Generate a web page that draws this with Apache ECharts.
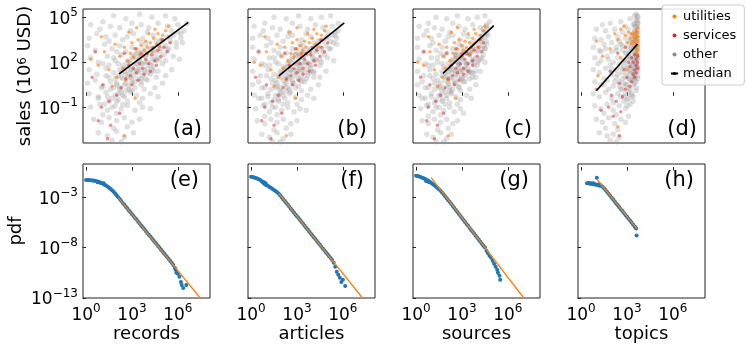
<!DOCTYPE html>
<html>
<head>
<meta charset="utf-8">
<script src="https://cdn.jsdelivr.net/npm/echarts@6/dist/echarts.min.js"></script>
<style>
  html, body { margin: 0; padding: 0; background: #fff; }
  #main { width: 747px; height: 348px; }
</style>
</head>
<body>
<div id="main"></div>
<script>
// all values are log10: [log10 x, log10 y]
const xNames = ['records', 'articles', 'sources', 'topics'];
const panelTags = ['(a)', '(b)', '(c)', '(d)', '(e)', '(f)', '(g)', '(h)'];
const xTicks = [0, 3, 6];
const salesTicks = [5, 2, -1];
const pdfTicks = [-3, -8, -13];

// ---- top row: sales vs. count ----
const otherA = [[1.8,5.1],[2.6,4.9],[3.5,5.2],[4.3,5.0],[5.2,5.1],[5.8,4.9],[1.1,4.7],[3.0,4.6],
  [0.3,4.5],[0.9,4.2],[1.6,4.4],[2.2,4.3],[2.9,4.1],[3.6,4.5],[4.1,4.3],[4.7,4.6],[5.3,4.4],[6.0,4.5],[6.6,4.6],[5.6,4.1],
  [0.2,3.6],[0.7,3.9],[1.3,3.7],[1.9,3.8],[2.4,3.5],[3.1,3.9],[3.7,3.6],[4.4,3.8],[4.9,3.5],[5.5,3.7],[6.2,3.9],[2.7,3.7],[4.0,4.0],
  [0.1,3.1],[0.6,2.8],[1.2,3.2],[1.7,2.9],[2.2,3.1],[2.6,2.7],[3.0,3.0],[3.4,2.8],[3.9,3.2],[4.3,2.9],[4.8,3.1],[5.3,2.8],[5.9,3.0],[6.3,3.3],[1.5,3.4],[3.6,3.3],[4.6,3.4],
  [0.3,2.3],[0.8,2.0],[1.4,2.4],[1.9,2.1],[2.3,2.5],[2.7,2.0],[3.1,2.3],[3.5,2.1],[3.9,2.4],[4.3,2.0],[4.7,2.3],[5.2,2.1],[5.7,2.4],[6.1,2.2],[2.0,2.7],[3.3,2.6],[4.5,2.6],[1.1,1.9],
  [0.2,1.5],[0.7,1.2],[1.3,1.6],[1.8,1.3],[2.2,1.5],[2.6,1.2],[3.0,1.6],[3.4,1.3],[3.8,1.5],[4.2,1.2],[4.7,1.4],[5.2,1.1],[5.6,1.5],[2.4,1.8],[2.9,1.0],[3.6,1.9],[4.4,1.7],[1.5,1.0],
  [0.1,0.6],[0.6,0.8],[1.1,0.4],[1.6,0.7],[2.0,0.5],[2.4,0.9],[2.8,0.4],[3.2,0.7],[3.6,0.5],[4.0,0.8],[4.5,0.3],[5.0,0.6],[2.2,0.2],[3.0,0.1],[3.8,0.2],[1.9,0.9],
  [0.2,-0.1],[0.8,-0.3],[1.3,0.0],[1.7,-0.4],[2.1,-0.1],[2.5,-0.3],[2.9,0.0],[3.3,-0.2],[3.7,-0.4],[4.2,-0.1],[4.7,-0.3],[1.5,-0.6],[2.7,-0.6],[3.5,-0.7],
  [0.3,-1.0],[0.9,-0.8],[1.4,-1.2],[1.9,-0.9],[2.3,-1.1],[2.7,-0.9],[3.2,-1.2],[3.7,-1.0],[4.2,-1.1],[2.0,-1.4],[1.1,-1.5],
  [0.5,-1.8],[1.0,-2.0],[1.5,-1.7],[2.0,-1.9],[2.5,-1.7],[3.0,-2.0],[3.5,-1.8],[2.7,-2.3],[1.8,-2.4],
  [0.8,-2.7],[1.4,-2.9],[2.0,-2.6],[2.5,-3.0],[3.1,-2.7],[1.7,-3.2],[2.3,-3.3],
  [2.3,1.0],[2.5,1.4],[2.7,1.7],[2.9,2.0],[3.1,1.4],[3.3,1.9],[3.5,2.3],[3.7,1.1],[3.9,2.0],[4.1,2.6],[4.3,1.5],[4.5,2.2],[4.8,2.7],[5.0,1.9],
  [2.6,0.6],[2.8,1.3],[3.0,0.8],[3.2,2.5],[3.4,1.6],[3.6,0.9],[3.8,2.8],[4.0,1.6],[4.6,1.0],[1.8,0.3],[2.1,1.1],[2.3,0.0],[2.0,-0.6],[2.4,-0.8],
  [1.2,-0.8],[1.4,-0.3],[1.6,0.2],[1.7,-1.0],[1.9,-0.2],[2.0,0.6],[2.1,-0.5],[2.2,0.3],[2.3,1.3],[2.4,-0.2],[2.5,0.5],[2.5,1.6],[2.6,0.1],[2.7,1.0],
  [2.8,2.1],[2.8,0.2],[2.9,1.5],[3.0,0.6],[3.0,2.4],[3.1,1.1],[3.2,1.9],[3.2,0.3],[3.3,1.4],[3.4,2.2],[3.4,0.9],[3.5,1.5],[3.6,2.6],[3.6,0.7],
  [3.7,1.9],[3.8,1.3],[3.9,2.5],[3.9,0.9],[4.0,2.0],[4.1,1.3],[4.2,2.9],[4.2,1.8],[4.3,2.3],[4.4,1.4],[4.5,2.8],[4.6,2.1],[4.7,3.2],[4.8,2.2],
  [4.9,2.9],[5.0,3.4],[5.1,2.5],[5.2,3.1],[5.3,3.7],[5.4,2.9],[5.5,3.4],[5.7,3.8],[5.9,3.3],[6.0,4.0],[6.2,3.6],[6.4,4.1],[1.0,0.3],[1.3,1.1],
  [0.8,-0.4],[1.5,1.8],[1.8,2.3],[2.1,1.9]];
const utilA = [[2.7,2.1],[2.9,2.6],[3.1,2.3],[3.3,2.9],[3.5,2.5],[3.6,3.1],[3.8,2.8],[3.9,3.4],[4.0,3.0],[4.2,3.3],[4.3,2.7],[4.4,3.6],[4.6,3.2],[4.7,3.9],
  [4.9,3.5],[5.0,3.8],[5.2,4.1],[3.4,3.5],[3.0,3.3],[2.5,3.0],[4.1,3.9],[3.7,2.4],[4.5,4.2],[5.4,4.4],[2.2,2.4],[1.9,3.2],[1.2,2.7],[0.8,1.8],
  [0.3,2.2],[1.5,1.5],[2.0,1.0],[2.6,0.8],[1.0,3.7],[3.3,4.3],[2.8,4.0],[1.7,0.4],[2.5,-2.9],[3.2,-0.4],[2.4,1.6],[4.8,3.0]];
const servA = [[2.6,0.9],[2.9,1.1],[3.1,1.6],[3.3,1.3],[3.5,1.9],[3.7,1.6],[3.9,2.2],[4.1,1.9],[4.3,2.5],[4.5,2.1],[4.7,2.8],[4.9,2.4],[5.1,3.0],[5.3,2.7],
  [5.5,3.3],[3.0,0.5],[3.4,0.8],[3.8,1.2],[4.2,1.4],[4.6,1.8],[2.8,1.8],[3.6,2.6],[4.4,3.0],[5.0,3.5],[2.3,0.3],[2.0,-0.2],[1.5,-0.6],[1.0,-1.0],
  [0.8,-1.9],[1.6,-2.2],[2.2,-1.4],[1.4,-3.1],[0.4,1.0],[1.1,0.5],[2.5,2.6],[3.2,2.9],[4.0,2.6],[0.6,2.7]];
const medianA = [[2.16,1.22],[6.68,4.66]];

const otherB = [[1.5,5.0],[2.3,4.9],[3.1,5.1],[3.9,4.9],[4.6,5.0],[5.2,5.1],[0.9,4.6],[2.7,4.6],
  [0.2,4.4],[0.8,4.1],[1.4,4.3],[1.9,4.2],[2.5,4.0],[3.2,4.4],[3.7,4.2],[4.2,4.5],[4.7,4.3],[5.3,4.4],[5.7,4.6],[5.0,4.0],
  [0.1,3.6],[0.6,3.8],[1.1,3.6],[1.7,3.8],[2.1,3.4],[2.7,3.8],[3.3,3.5],[3.9,3.7],[4.4,3.4],[4.9,3.6],[5.5,3.8],[2.4,3.7],[3.6,3.9],
  [0.1,3.0],[0.5,2.7],[1.0,3.1],[1.5,2.8],[1.9,3.0],[2.3,2.6],[2.7,2.9],[3.0,2.7],[3.4,3.1],[3.8,2.8],[4.2,3.0],[4.7,2.7],[5.2,2.9],[5.6,3.2],[1.3,3.3],[3.2,3.2],[4.1,3.3],
  [0.2,2.2],[0.7,1.9],[1.2,2.3],[1.6,2.0],[2.0,2.4],[2.4,1.9],[2.7,2.2],[3.1,2.0],[3.4,2.3],[3.8,1.9],[4.2,2.2],[4.6,2.0],[5.0,2.3],[5.4,2.1],[1.8,2.6],[2.9,2.5],[4.0,2.5],[0.9,1.8],
  [0.1,1.4],[0.6,1.1],[1.1,1.5],[1.5,1.2],[1.9,1.4],[2.3,1.1],[2.6,1.5],[3.0,1.2],[3.3,1.4],[3.7,1.1],[4.1,1.3],[4.5,1.0],[4.9,1.4],[2.1,1.7],[2.5,0.9],[3.2,1.8],[3.9,1.6],[1.3,0.9],
  [0.1,0.5],[0.5,0.7],[0.9,0.3],[1.4,0.6],[1.7,0.4],[2.1,0.8],[2.4,0.3],[2.8,0.6],[3.1,0.4],[3.5,0.7],[3.9,0.2],[4.4,0.5],[1.9,0.1],[2.6,0.0],[3.3,0.1],[1.6,0.8],
  [0.2,-0.2],[0.7,-0.4],[1.1,-0.1],[1.5,-0.5],[1.8,-0.2],[2.2,-0.4],[2.5,-0.1],[2.9,-0.3],[3.3,-0.5],[3.7,-0.2],[4.1,-0.4],[1.3,-0.7],[2.4,-0.7],[3.0,-0.8],
  [0.3,-1.1],[0.8,-0.9],[1.2,-1.3],[1.6,-1.0],[2.0,-1.2],[2.4,-1.0],[2.8,-1.3],[3.2,-1.1],[3.6,-1.2],[1.7,-1.5],[0.9,-1.6],
  [0.4,-1.9],[0.9,-2.1],[1.3,-1.8],[1.7,-2.0],[2.1,-1.8],[2.6,-2.1],[3.0,-1.9],[2.3,-2.4],[1.5,-2.5],
  [0.7,-2.8],[1.2,-3.0],[1.7,-2.7],[2.1,-3.1],[2.6,-2.8],[1.4,-3.3],[1.9,-3.3],
  [2.0,1.0],[2.2,1.4],[2.4,1.7],[2.6,2.0],[2.8,1.4],[3.0,1.9],[3.2,2.3],[3.3,1.0],[3.5,2.0],[3.7,2.6],[3.9,1.4],[4.1,2.1],[4.3,2.7],[4.5,1.8],
  [2.3,0.6],[2.5,1.3],[2.7,0.8],[2.9,2.5],[3.1,1.6],[3.2,0.8],[3.4,2.8],[3.6,1.6],[4.1,1.0],[1.6,0.3],[1.8,1.1],[2.0,0.0],[1.8,-0.6],[2.1,-0.8],
  [0.9,-0.8],[1.1,-0.3],[1.3,0.2],[1.4,-1.0],[1.6,-0.2],[1.7,0.6],[1.8,-0.5],[1.9,0.3],[2.0,1.3],[2.1,-0.2],[2.2,0.5],[2.2,1.6],[2.3,0.1],[2.4,1.0],
  [2.5,2.1],[2.5,0.2],[2.6,1.5],[2.7,0.6],[2.7,2.4],[2.8,1.1],[2.9,1.9],[2.9,0.3],[3.0,1.4],[3.1,2.2],[3.1,0.9],[3.2,1.5],[3.3,2.6],[3.3,0.7],
  [3.4,1.9],[3.5,1.3],[3.6,2.5],[3.6,0.9],[3.7,2.0],[3.8,1.3],[3.9,2.9],[3.9,1.8],[4.0,2.3],[4.1,1.4],[4.2,2.8],[4.3,2.1],[4.4,3.2],[4.5,2.2],
  [4.6,2.9],[4.7,3.4],[4.8,2.5],[4.9,3.1],[5.0,3.7],[5.1,2.9],[5.2,3.4],[5.3,3.8],[5.4,3.3],[5.5,4.0],[5.6,3.6],[5.7,4.1],[0.7,0.3],[1.0,1.1],
  [0.5,-0.4],[1.2,1.8],[1.5,2.3],[1.8,1.9]];
const utilB = [[2.4,2.1],[2.6,2.6],[2.8,2.3],[3.0,2.9],[3.1,2.5],[3.2,3.1],[3.4,2.8],[3.5,3.4],[3.6,3.0],[3.8,3.3],[3.9,2.7],[4.0,3.6],[4.2,3.2],[4.3,3.9],
  [4.5,3.5],[4.6,3.8],[4.8,4.1],[3.0,3.5],[2.7,3.3],[2.2,3.0],[3.7,3.9],[3.3,2.4],[4.1,4.2],[4.9,4.4],[2.0,2.4],[1.7,3.2],[1.0,2.7],[0.6,1.8],
  [0.2,2.0],[1.3,1.5],[1.8,1.0],[2.3,0.8],[0.9,3.7],[3.0,4.3],[2.5,4.0],[1.5,0.4],[2.3,-2.9],[2.9,-0.4],[2.1,1.6],[4.4,3.0]];
const servB = [[2.3,0.9],[2.6,1.1],[2.8,1.6],[3.0,1.3],[3.2,1.9],[3.4,1.6],[3.5,2.2],[3.7,1.9],[3.9,2.5],[4.1,2.1],[4.3,2.8],[4.5,2.4],[4.6,3.0],[4.8,2.7],
  [5.0,3.3],[2.7,0.5],[3.1,0.8],[3.4,1.2],[3.8,1.4],[4.2,1.8],[2.5,1.8],[3.3,2.6],[4.0,3.0],[4.6,3.5],[2.1,0.3],[1.8,-0.2],[1.4,-0.6],[0.9,-1.0],
  [0.7,-1.9],[1.5,-2.2],[2.0,-1.4],[1.3,-3.1],[0.3,1.0],[1.0,0.5],[2.2,2.6],[2.9,2.9],[3.6,2.6],[0.5,2.7]];
const medianB = [[1.81,1.10],[6.09,4.62]];

const otherC = [[1.3,5.0],[2.0,4.9],[2.7,5.1],[3.4,4.9],[4.0,5.0],[4.5,5.1],[0.8,4.6],[2.4,4.6],
  [0.2,4.4],[0.7,4.1],[1.2,4.3],[1.7,4.2],[2.2,4.0],[2.8,4.4],[3.2,4.2],[3.7,4.5],[4.2,4.3],[4.6,4.4],[4.8,4.7],[4.4,4.0],
  [0.1,3.6],[0.5,3.8],[1.0,3.6],[1.5,3.8],[1.9,3.4],[2.4,3.8],[2.9,3.5],[3.4,3.7],[3.9,3.4],[4.3,3.6],[4.7,3.8],[2.1,3.7],[3.1,3.9],
  [0.1,3.0],[0.5,2.7],[0.9,3.1],[1.3,2.8],[1.7,3.0],[2.0,2.6],[2.4,2.9],[2.7,2.7],[3.0,3.1],[3.4,2.8],[3.7,3.0],[4.1,2.7],[4.5,2.9],[4.6,3.2],[1.1,3.3],[2.8,3.2],[3.6,3.3],
  [0.2,2.2],[0.6,1.9],[1.0,2.3],[1.4,2.0],[1.8,2.4],[2.1,1.9],[2.4,2.2],[2.7,2.0],[3.0,2.3],[3.3,1.9],[3.7,2.2],[4.0,2.0],[4.3,2.3],[4.5,2.0],[1.6,2.6],[2.6,2.5],[3.5,2.5],[0.8,1.8],
  [0.1,1.4],[0.5,1.1],[0.9,1.5],[1.3,1.2],[1.7,1.4],[2.0,1.1],[2.3,1.5],[2.6,1.2],[2.9,1.4],[3.2,1.1],[3.6,1.3],[3.9,1.0],[4.2,1.4],[1.8,1.7],[2.2,0.9],[2.8,1.8],[3.4,1.6],[1.1,0.9],
  [0.1,0.5],[0.4,0.7],[0.8,0.3],[1.2,0.6],[1.5,0.4],[1.9,0.8],[2.2,0.3],[2.5,0.6],[2.8,0.4],[3.1,0.7],[3.5,0.2],[3.9,0.5],[1.7,0.1],[2.3,0.0],[2.9,0.1],[1.4,0.8],
  [0.2,-0.2],[0.6,-0.4],[1.0,-0.1],[1.3,-0.5],[1.6,-0.2],[2.0,-0.4],[2.3,-0.1],[2.6,-0.3],[2.9,-0.5],[3.3,-0.2],[3.6,-0.4],[1.2,-0.7],[2.2,-0.7],[2.7,-0.8],
  [0.3,-1.1],[0.7,-0.9],[1.1,-1.3],[1.5,-1.0],[1.8,-1.2],[2.2,-1.0],[2.5,-1.3],[2.9,-1.1],[3.1,-1.4],[1.6,-1.5],[0.8,-1.6],
  [0.4,-1.9],[0.8,-2.1],[1.2,-1.8],[1.6,-2.0],[2.0,-1.8],[2.4,-2.1],[2.7,-1.9],[2.1,-2.4],[1.4,-2.5],
  [0.7,-2.8],[1.1,-3.0],[1.6,-2.7],[2.0,-3.1],[2.3,-2.8],[1.3,-3.3],[1.8,-3.3],
  [1.9,1.0],[2.1,1.4],[2.3,1.7],[2.4,2.0],[2.6,1.4],[2.8,1.9],[2.9,2.3],[3.0,1.0],[3.2,2.0],[3.3,2.6],[3.5,1.4],[3.7,2.1],[3.8,2.7],[4.0,1.8],
  [2.1,0.6],[2.3,1.3],[2.5,0.8],[2.6,2.5],[2.8,1.6],[2.9,0.8],[3.1,2.8],[3.2,1.6],[3.7,1.0],[1.5,0.3],[1.7,1.1],[1.9,0.0],[1.7,-0.6],[1.9,-0.8],
  [0.8,-0.8],[1.0,-0.3],[1.2,0.2],[1.3,-1.0],[1.5,-0.2],[1.6,0.6],[1.7,-0.5],[1.8,0.3],[1.9,1.3],[2.0,-0.2],[2.1,0.5],[2.1,1.6],[2.2,0.1],[2.3,1.0],
  [2.4,2.1],[2.4,0.2],[2.5,1.5],[2.6,0.6],[2.6,2.4],[2.7,1.1],[2.8,1.9],[2.8,0.3],[2.9,1.4],[3.0,2.2],[3.0,0.9],[3.1,1.5],[3.2,2.6],[3.2,0.7],
  [3.3,1.9],[3.4,1.3],[3.5,2.5],[3.5,0.9],[3.6,2.0],[3.7,1.3],[3.7,2.9],[3.8,1.8],[3.9,2.3],[3.9,1.4],[4.0,2.8],[4.1,2.1],[4.1,3.2],[4.2,2.2],
  [4.3,2.9],[4.3,3.4],[4.4,2.5],[4.4,3.1],[4.5,3.7],[4.5,2.9],[4.6,3.4],[4.6,3.9],[4.7,4.2],[4.6,4.5],[4.4,4.2],[4.2,3.7],[0.6,0.3],[0.9,1.1],
  [0.4,-0.4],[1.1,1.8],[1.4,2.3],[1.7,1.9]];
const utilC = [[2.2,2.1],[2.4,2.6],[2.6,2.3],[2.7,2.9],[2.9,2.5],[3.0,3.1],[3.1,2.8],[3.2,3.4],[3.3,3.0],[3.5,3.3],[3.6,2.7],[3.7,3.6],[3.8,3.2],[3.9,3.9],
  [4.1,3.5],[4.2,3.8],[4.4,4.1],[2.8,3.5],[2.5,3.3],[2.0,3.0],[3.4,3.9],[3.0,2.4],[3.8,4.2],[4.5,4.4],[1.8,2.4],[1.5,3.2],[0.9,2.7],[0.5,1.8],
  [0.1,2.0],[1.2,1.5],[1.7,1.0],[2.1,0.8],[0.8,3.7],[2.7,4.3],[2.3,4.0],[1.4,0.4],[2.1,-2.9],[2.6,-0.4],[1.9,1.6],[4.0,3.0]];
const servC = [[2.1,0.9],[2.4,1.1],[2.6,1.6],[2.7,1.3],[2.9,1.9],[3.1,1.6],[3.2,2.2],[3.4,1.9],[3.5,2.5],[3.7,2.1],[3.8,2.8],[4.0,2.4],[4.1,3.0],[4.3,2.7],
  [4.4,3.3],[2.5,0.5],[2.8,0.8],[3.1,1.2],[3.4,1.4],[3.7,1.8],[2.3,1.8],[3.0,2.6],[3.6,3.0],[4.2,3.5],[1.9,0.3],[1.6,-0.2],[1.3,-0.6],[0.8,-1.0],
  [0.7,-1.9],[1.4,-2.2],[1.8,-1.4],[1.2,-3.1],[0.3,1.0],[0.9,0.5],[2.0,2.6],[2.6,2.9],[3.3,2.6],[0.5,2.7]];
const medianC = [[1.76,1.26],[5.08,4.44]];

const otherD = [[3.5,5.1],[3.7,5.0],[3.6,4.8],[3.2,4.9],[2.6,4.7],[1.9,4.6],[1.4,4.5],[3.7,4.6],[3.4,4.5],[2.9,4.4],
  [1.0,4.2],[1.6,4.1],[2.2,4.2],[2.7,4.0],[3.1,4.2],[3.5,4.1],[3.7,4.3],[3.6,3.9],[3.3,3.8],[2.4,3.7],
  [0.9,3.6],[1.3,3.5],[1.8,3.7],[2.0,3.3],[2.5,3.4],[2.9,3.6],[3.2,3.4],[3.5,3.5],[3.7,3.6],[3.7,3.2],[1.5,3.2],
  [0.8,3.0],[1.2,2.8],[1.6,2.9],[2.0,2.7],[2.3,3.0],[2.7,2.8],[3.0,3.0],[3.3,2.9],[3.6,2.8],[3.7,2.6],[3.5,3.1],[2.6,3.2],
  [0.9,2.3],[1.3,2.1],[1.7,2.4],[2.1,2.0],[2.4,2.3],[2.8,2.1],[3.1,2.4],[3.4,2.2],[3.6,2.0],[3.7,2.3],[1.1,1.9],[2.9,2.6],
  [0.8,1.5],[1.2,1.3],[1.6,1.6],[2.0,1.2],[2.3,1.5],[2.7,1.3],[3.0,1.6],[3.3,1.4],[3.5,1.2],[3.7,1.6],[1.9,1.8],[2.5,1.9],
  [0.9,0.7],[1.3,0.5],[1.7,0.8],[2.1,0.4],[2.5,0.7],[2.9,0.5],[3.2,0.8],[3.5,0.6],[3.7,0.9],[1.5,0.9],[2.3,1.0],[3.4,1.0],
  [0.8,-0.1],[1.2,-0.3],[1.6,0.0],[2.0,-0.4],[2.4,-0.1],[2.8,-0.3],[3.1,0.0],[3.4,-0.3],[3.6,0.1],[1.8,0.2],[2.6,0.2],
  [0.9,-0.9],[1.3,-1.1],[1.7,-0.8],[2.1,-1.2],[2.5,-0.9],[2.9,-1.1],[3.2,-0.8],[3.4,-0.6],[1.5,-1.4],[2.3,-1.5],
  [1.0,-1.8],[1.4,-2.0],[1.8,-1.7],[2.2,-2.1],[2.6,-1.8],[2.9,-2.0],[3.1,-1.6],[1.6,-2.4],[2.4,-2.5],
  [1.2,-2.7],[1.7,-2.9],[2.1,-2.8],[2.5,-3.0],[1.9,-3.2],[2.3,-3.3],
  [3.5,4.4],[3.6,3.7],[3.4,3.3],[3.7,3.0],[3.5,2.6],[3.6,2.4],[3.3,2.0],[3.6,1.8],[3.7,1.4],[3.4,1.7],[3.2,1.2],[3.5,0.9],[3.0,2.2],[3.2,2.7],
  [2.8,1.7],[3.1,0.3],[3.3,-0.1],[3.0,-0.5],[2.7,0.9],[3.7,3.8],[3.7,4.8],[3.6,5.2],
  [3.7,4.6],[3.6,4.4],[3.7,4.1],[3.5,4.0],[3.6,3.6],[3.7,3.4],[3.4,3.5],[3.6,3.2],[3.7,2.9],[3.5,2.8],[3.3,3.0],[3.6,2.5],[3.7,2.2],[3.4,2.4],
  [3.5,2.1],[3.2,2.3],[3.6,1.9],[3.7,1.7],[3.3,1.8],[3.5,1.6],[3.1,1.8],[3.6,1.4],[3.7,1.1],[3.4,1.3],[3.2,1.5],[3.0,1.3],[3.5,1.0],[3.6,0.7],
  [3.3,0.8],[3.1,0.9],[2.9,1.0],[3.4,0.5],[3.6,0.3],[3.2,0.2],[3.0,0.5],[2.8,0.6],[3.3,-0.2],[3.1,-0.4],[2.9,-0.1],[2.7,0.2],[3.0,-0.9],[2.8,-0.6],
  [2.6,-0.3],[2.5,0.4],[2.4,1.2],[2.6,1.6],[2.8,2.0],[3.0,2.6],[3.2,3.3],[3.4,3.9],[3.5,4.6],[3.7,5.1],[2.2,0.7],[2.0,1.5],[1.8,2.2],[2.3,2.8],
  [2.7,3.1],[2.1,-0.7],[1.5,0.5],[1.3,2.7]];
const utilD = [[3.7,4.3],[3.7,4.0],[3.7,3.7],[3.7,3.4],[3.7,3.1],[3.7,2.8],[3.6,4.1],[3.6,3.8],[3.6,3.5],[3.6,3.2],[3.6,2.9],[3.6,2.6],
  [3.5,3.9],[3.5,3.6],[3.5,3.3],[3.5,3.0],[3.4,3.7],[3.4,3.4],[3.3,3.9],[3.3,3.2],[3.2,3.6],[3.1,4.0],[3.0,3.3],[2.9,3.8],[2.8,4.4],
  [2.6,4.2],[2.4,3.5],[2.2,3.9],[1.9,2.9],[1.4,2.4],[1.1,1.1],[1.0,3.4],[2.6,2.3],[2.4,-2.3],[3.0,1.5],[3.7,2.5]];
const servD = [[3.7,2.4],[3.7,2.0],[3.7,1.6],[3.6,2.2],[3.6,1.8],[3.6,1.3],[3.5,2.5],[3.5,1.5],[3.5,1.0],[3.4,2.0],[3.4,1.2],[3.3,2.3],
  [3.3,0.7],[3.2,1.7],[3.2,0.4],[3.1,2.0],[3.0,1.0],[2.9,0.2],[2.8,1.5],[2.7,-0.3],[2.5,0.6],[2.3,-0.6],[2.0,-0.2],[1.8,-1.0],
  [2.1,-1.6],[2.6,-1.3],[1.3,-1.2],[1.0,0.2],[2.4,2.6],[2.9,3.0],[2.5,-2.9],[1.9,1.4]];
const medianD = [[1.00,0.10],[3.69,3.22]];

// ---- bottom row: pdf of counts ----
const pdfE = [[0.0,-1.29],[0.1,-1.29],[0.2,-1.30],[0.3,-1.31],[0.4,-1.33],[0.5,-1.35],[0.6,-1.38],[0.7,-1.42],[0.75,-1.50],[0.8,-1.47],
  [0.9,-1.52],[0.95,-1.58],[1.0,-1.58],[1.1,-1.66],[1.15,-1.62],[1.2,-1.75],[1.3,-1.84],[1.4,-1.94],[1.5,-2.05],[1.6,-2.17],[1.7,-2.30],
  [1.8,-2.45],[1.9,-2.62],[2.0,-2.80],[2.1,-2.99],[2.2,-3.18],[2.3,-3.37],[2.4,-3.57],[2.5,-3.74],[2.6,-3.94],[2.7,-4.12],[2.8,-4.31],
  [2.9,-4.49],[3.0,-4.68],[3.1,-4.86],[3.2,-5.05],[3.3,-5.22],[3.4,-5.42],[3.5,-5.60],[3.6,-5.80],[3.7,-5.97],[3.8,-6.16],[3.9,-6.35],
  [4.0,-6.54],[4.1,-6.71],[4.2,-6.90],[4.3,-7.10],[4.4,-7.27],[4.5,-7.47],[4.6,-7.64],[4.7,-7.84],[4.8,-8.01],[4.9,-8.22],[5.0,-8.38],
  [5.1,-8.59],[5.2,-8.75],[5.3,-8.96],[5.4,-9.12],[5.5,-9.32],[5.6,-9.50],[5.7,-9.72],[5.8,-10.0],[5.85,-10.2],[5.9,-10.5],[6.0,-10.6],
  [6.1,-10.9],[6.2,-11.4],[6.25,-11.7],[6.35,-12.0],[6.55,-11.7]];
const fitE = [[2.10,-3.04],[7.46,-13.0]];

const pdfF = [[0.0,-0.96],[0.1,-1.00],[0.2,-1.05],[0.3,-1.09],[0.4,-1.15],[0.5,-1.21],[0.6,-1.30],[0.7,-1.40],[0.75,-1.48],[0.8,-1.55],
  [0.85,-1.50],[0.9,-1.70],[0.95,-1.62],[1.0,-1.80],[1.1,-1.85],[1.2,-1.98],[1.3,-2.06],[1.4,-2.17],[1.5,-2.27],[1.6,-2.38],[1.7,-2.50],
  [1.8,-2.62],[1.9,-2.81],[2.0,-3.00],[2.1,-3.19],[2.2,-3.38],[2.3,-3.57],[2.4,-3.75],[2.5,-3.94],[2.6,-4.13],[2.7,-4.32],[2.8,-4.51],
  [2.9,-4.70],[3.0,-4.88],[3.1,-5.07],[3.2,-5.26],[3.3,-5.45],[3.4,-5.64],[3.5,-5.83],[3.6,-6.02],[3.7,-6.21],[3.8,-6.40],[3.9,-6.59],
  [4.0,-6.77],[4.1,-6.96],[4.2,-7.15],[4.3,-7.34],[4.4,-7.53],[4.5,-7.72],[4.6,-7.91],[4.7,-8.10],[4.8,-8.29],[4.9,-8.48],[5.0,-8.66],
  [5.1,-8.85],[5.2,-9.04],[5.3,-9.23],[5.4,-9.50],[5.5,-9.90],[5.6,-10.4],[5.7,-10.7],[5.8,-11.0],[5.9,-11.4],[6.0,-11.2],[6.15,-11.8]];
const fitF = [[1.79,-2.60],[7.28,-13.0]];

const pdfG = [[0.0,-0.86],[0.1,-0.90],[0.2,-0.95],[0.3,-1.00],[0.4,-1.06],[0.5,-1.12],[0.6,-1.20],[0.65,-1.38],[0.7,-1.28],[0.75,-1.42],
  [0.8,-1.37],[0.85,-1.50],[0.9,-1.47],[1.0,-1.58],[1.1,-1.70],[1.2,-1.82],[1.3,-1.95],[1.4,-2.08],[1.5,-2.20],[1.6,-2.35],[1.7,-2.52],
  [1.8,-2.70],[1.9,-2.90],[2.0,-3.09],[2.1,-3.29],[2.2,-3.48],[2.3,-3.68],[2.4,-3.88],[2.5,-4.07],[2.6,-4.27],[2.7,-4.47],[2.8,-4.66],
  [2.9,-4.86],[3.0,-5.06],[3.1,-5.25],[3.2,-5.45],[3.3,-5.65],[3.4,-5.84],[3.5,-6.04],[3.6,-6.24],[3.7,-6.43],[3.8,-6.63],[3.9,-6.83],
  [4.0,-7.02],[4.1,-7.22],[4.2,-7.42],[4.3,-7.61],[4.4,-7.81],[4.5,-8.00],[4.6,-8.30],[4.7,-8.55],[4.8,-8.80],[4.9,-9.00],[5.0,-9.30],
  [5.1,-9.60],[5.2,-9.90],[5.3,-10.2],[5.35,-10.5],[5.45,-10.8],[5.5,-11.2]];
const fitG = [[0.98,-1.06],[7.04,-13.0]];

const pdfH = [[0.39,-1.60],[0.45,-1.62],[0.5,-1.61],[0.55,-1.64],[0.6,-1.60],[0.65,-1.66],[0.7,-1.63],[0.75,-1.67],[0.8,-1.62],
  [0.85,-1.70],[0.9,-1.68],[0.95,-1.75],[1.03,-1.06],[1.1,-1.78],[1.15,-1.72],[1.2,-1.85],[1.3,-1.82],[1.4,-1.95],[1.5,-2.10],
  [1.6,-2.28],[1.7,-2.47],[1.8,-2.66],[1.9,-2.85],[2.0,-3.04],[2.1,-3.23],[2.2,-3.42],[2.3,-3.61],[2.4,-3.80],[2.5,-3.99],
  [2.6,-4.18],[2.7,-4.37],[2.8,-4.56],[2.9,-4.75],[3.0,-4.94],[3.1,-5.13],[3.2,-5.32],[3.3,-5.51],[3.4,-5.70],[3.5,-5.90],
  [3.55,-6.00],[3.6,-6.10],[3.63,-6.80]];
const fitH = [[1.03,-1.19],[3.65,-6.14]];

const others = [otherA, otherB, otherC, otherD];
const utils = [utilA, utilB, utilC, utilD];
const servs = [servA, servB, servC, servD];
const medians = [medianA, medianB, medianC, medianD];
const pdfs = [pdfE, pdfF, pdfG, pdfH];
const fits = [fitE, fitF, fitG, fitH];

const FONT = 'DejaVu Sans';
const INK = '#222';
const lefts = [83, 248, 413, 578];
const panelW = 127, panelH = 134;
const tops = [9, 164];

function sup(v) {
  const s = v < 0 ? '\u2212' + Math.abs(v) : String(v);
  return '{b|10}{s|' + s + '}';
}
const tickRich = {
  b: { fontSize: 17, fontFamily: FONT, color: '#000', verticalAlign: 'bottom', padding: [4, 0, 0, 0] },
  s: { fontSize: 12, fontFamily: FONT, color: '#000', verticalAlign: 'top' }
};

const chart = echarts.init(document.getElementById('main'), null, { renderer: 'canvas' });

const grid = [], xAxis = [], yAxis = [], series = [], graphic = [];

for (let row = 0; row < 2; row++) {
  for (let c = 0; c < 4; c++) {
    const g = row * 4 + c;
    grid.push({
      left: lefts[c], top: tops[row], width: panelW, height: panelH,
      show: true, borderColor: INK, borderWidth: 1, backgroundColor: 'transparent',
      outerBoundsMode: 'none', containLabel: false
    });
    xAxis.push({
      type: 'value', gridIndex: g, min: -0.2, max: 8.1,
      axisLine: { show: false }, splitLine: { show: false },
      axisTick: { show: true, customValues: xTicks, length: 3.5, lineStyle: { color: INK, width: 1 } },
      axisLabel: { show: row === 1, customValues: xTicks, formatter: sup, rich: tickRich, margin: 5 },
      name: row === 1 ? xNames[c] : '', nameLocation: 'middle', nameGap: 24,
      nameTextStyle: { fontSize: 18, fontFamily: FONT, color: '#000' }
    });
    const yt = row === 0 ? salesTicks : pdfTicks;
    yAxis.push({
      type: 'value', gridIndex: g,
      min: row === 0 ? -3.38 : -13, max: row === 0 ? 5.55 : 0.3,
      axisLine: { show: false }, splitLine: { show: false },
      axisTick: { show: true, customValues: yt, length: 3.5, lineStyle: { color: INK, width: 1 } },
      axisLabel: { show: c === 0, customValues: yt, formatter: sup, rich: tickRich, margin: 5 },
      name: c === 0 ? (row === 0 ? 'sales (10{s|6} USD)' : 'pdf') : '',
      nameLocation: 'middle', nameGap: row === 0 ? 47 : 58,
      nameTextStyle: { fontSize: 18, fontFamily: FONT, color: '#000',
        rich: { s: { fontSize: 12, fontFamily: FONT, color: '#000', verticalAlign: 'top' } } }
    });

    if (row === 0) {
      series.push({ type: 'scatter', name: 'other', xAxisIndex: g, yAxisIndex: g, data: others[c],
        symbolSize: 5.5, itemStyle: { color: '#999999', opacity: 0.3 }, z: 1 });
      series.push({ type: 'scatter', name: 'utilities', xAxisIndex: g, yAxisIndex: g, data: utils[c],
        symbolSize: 3.5, itemStyle: { color: '#ff7f0e', opacity: 0.6 }, z: 2 });
      series.push({ type: 'scatter', name: 'services', xAxisIndex: g, yAxisIndex: g, data: servs[c],
        symbolSize: 3.5, itemStyle: { color: '#d62728', opacity: 0.5 }, z: 3 });
      series.push({ type: 'line', name: 'median', xAxisIndex: g, yAxisIndex: g, data: medians[c],
        symbol: 'none', lineStyle: { color: '#000', width: 1.6 }, itemStyle: { color: '#000' }, z: 4 });
    } else {
      series.push({ type: 'scatter', name: 'pdf', xAxisIndex: g, yAxisIndex: g, data: pdfs[c],
        symbolSize: 4, itemStyle: { color: '#1f77b4', opacity: 1 }, z: 2 });
      series.push({ type: 'line', name: 'fit', xAxisIndex: g, yAxisIndex: g, data: fits[c],
        symbol: 'none', lineStyle: { color: '#ff7f0e', width: 1.3 }, z: 3 });
    }

    // panel tag
    const right = lefts[c] + panelW;
    graphic.push({
      type: 'text', z: 10,
      x: row === 0 ? right - 8 : right - 11,
      y: row === 0 ? tops[0] + panelH - 3 : tops[1] + 6,
      style: { text: panelTags[g], fontSize: 21, fontFamily: FONT, fill: '#000',
        align: 'right', verticalAlign: row === 0 ? 'bottom' : 'top' }
    });
  }
}

chart.setOption({
  animation: false,
  backgroundColor: '#fff',
  textStyle: { fontFamily: FONT },
  grid, xAxis, yAxis, series, graphic,
  legend: {
    orient: 'vertical', left: 662, top: 5,
    data: [
      { name: 'utilities', icon: 'circle', itemStyle: { color: '#ff7f0e', opacity: 1 } },
      { name: 'services', icon: 'circle', itemStyle: { color: '#d62728', opacity: 1 } },
      { name: 'other', icon: 'circle', itemStyle: { color: '#8c8c8c', opacity: 1 } },
      { name: 'median' }
    ],
    itemWidth: 7, itemHeight: 4, itemGap: 6,
    textStyle: { fontSize: 13, fontFamily: FONT, color: '#000' },
    backgroundColor: 'rgba(255,255,255,0.85)', borderColor: '#ccc', borderWidth: 1, borderRadius: 3,
    padding: [5, 8, 5, 8], selectedMode: false, z: 20
  }
});
</script>
</body>
</html>
